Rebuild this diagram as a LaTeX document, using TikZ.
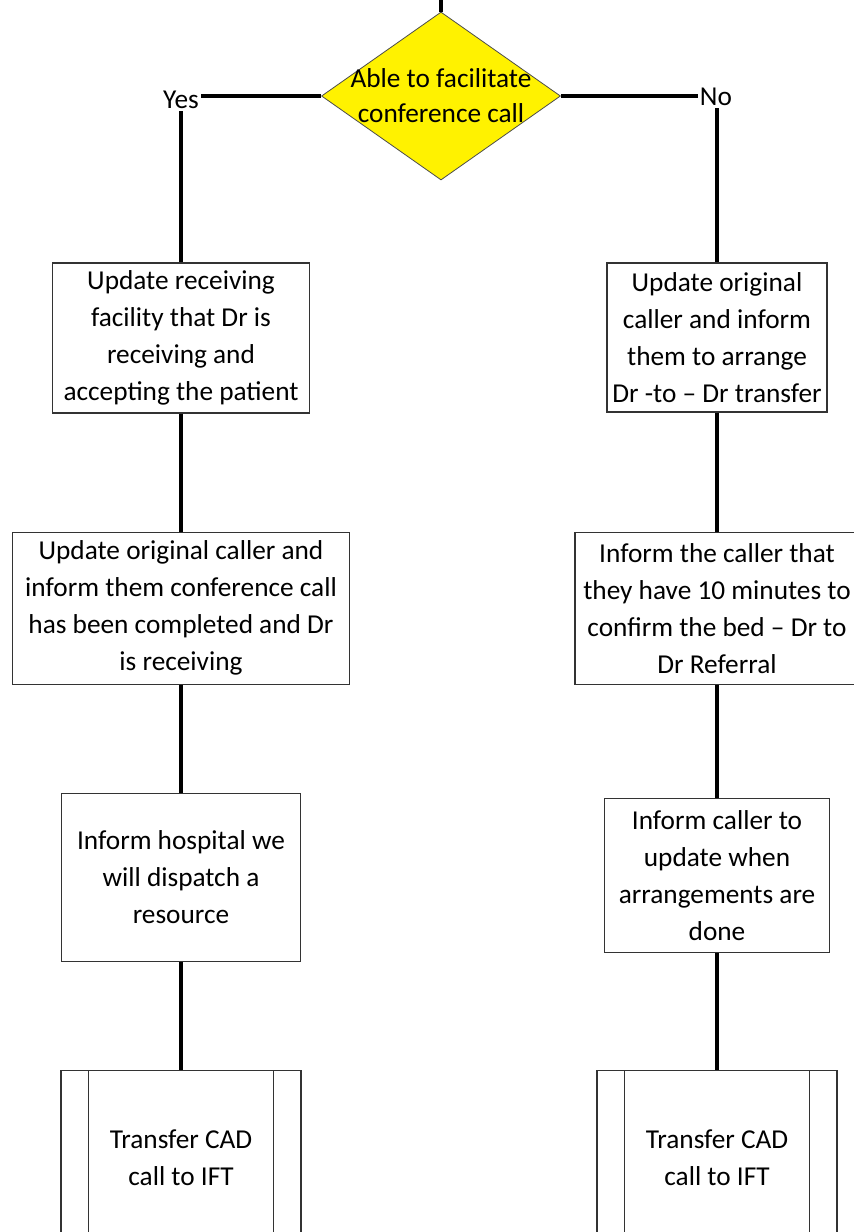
\documentclass[tikz,border=0pt]{standalone}
\usepackage{fontspec}
\setmainfont{Carlito}
\usetikzlibrary{shapes.geometric,positioning,calc}
\tikzset{
    box/.style =    {rectangle,
                    fill=white,
                    draw=white!20!black,
                    text=black,
                    line width=1.2pt,
                    align=center,
                    inner sep=2pt},
    decision/.style = {diamond,
                    fill=yellow,
                    draw=white!30!black,
                    line width=0.8pt,
                    inner sep=0pt,
                    minimum width=239pt,
                    minimum height=168pt},
    ift/.style =    {box,
                    minimum width=240pt,
                    minimum height=174pt},
    lbl/.style =    {text=black,
                    inner sep=2pt},
    conn/.style =   {draw=black,
                    line width=3.2pt},
    every node/.style = {font=\fontsize{27.3}{37}\selectfont}}

\begin{document}
\begin{tikzpicture}[x=1pt,y=-1pt]
    \useasboundingbox (0,0) rectangle (854,1232);
    \clip (0,0) rectangle (854,1232);
    % decision
    \coordinate (T) at (441,0);
    \node[decision, label={[align=center,font=\fontsize{27.3}{35}\selectfont]center:{Able to facilitate\\conference call}}] (Q) at (441,96) {};
    \node[lbl] (Y) at (181,100) {Yes};
    \node[lbl] (N) at (716,97) {No};
    % yes side
    \node[box, minimum width=257pt, minimum height=150pt] (L1) at (181,338)
        {Update receiving\\facility that Dr is\\receiving and\\accepting the patient};
    \node[box, minimum width=337pt, minimum height=152pt] (L2) [below=118pt of L1]
        {Update original caller and\\inform them conference call\\has been completed and Dr\\is receiving};
    \node[box, minimum width=239pt, minimum height=168pt] (L3) [below=108pt of L2]
        {Inform hospital we\\will dispatch a\\resource};
    \node[ift] (L4) [below=108pt of L3] {Transfer CAD\\call to IFT};
    % no side
    \node[box, minimum width=220pt, minimum height=149pt] (R1) at (717,337.5)
        {Update original\\caller and inform\\them to arrange\\Dr -to – Dr transfer};
    \node[box, minimum width=284pt, minimum height=152pt] (R2) [below=119pt of R1]
        {Inform the caller that\\they have 10 minutes to\\confirm the bed – Dr to\\Dr Referral};
    \node[box, minimum width=225pt, minimum height=154pt] (R3) [below=113pt of R2]
        {Inform caller to\\update when\\arrangements are\\done};
    \node[ift] (R4) [below=117pt of R3] {Transfer CAD\\call to IFT};
    \foreach \b in {L4,R4}{
        \draw[white!20!black, line width=1.2pt]
            ([xshift=28pt]\b.north west) -- ([xshift=28pt]\b.south west)
            ([xshift=-28pt]\b.north east) -- ([xshift=-28pt]\b.south east);
    }
    \path [conn]    (T) edge (Q.north)
                    (Q.west) edge (Q.west -| Y.east)
                    (Q.east) edge (Q.east -| N.west)
                    (Y) edge (L1)
                    (L1) edge (L2)
                    (L2) edge (L3)
                    (L3) edge (L4)
                    (N.south -| R1.north) edge (R1)
                    (R1) edge (R2)
                    (R2) edge (R3)
                    (R3) edge (R4);
\end{tikzpicture}
\end{document}
